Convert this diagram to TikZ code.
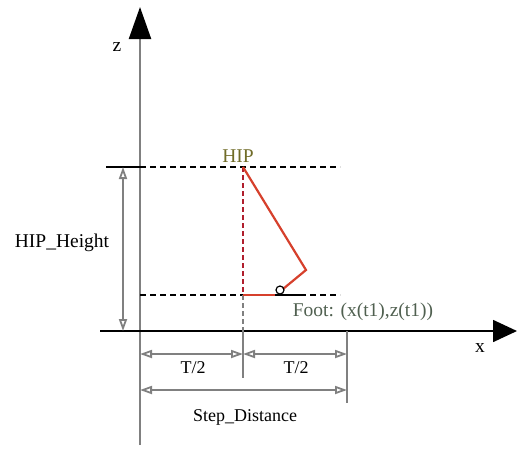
\documentclass[tikz,border=0pt]{standalone}
\usepackage{fontspec}
\setmainfont{Liberation Serif}
\usetikzlibrary{arrows.meta}

\definecolor{legred}{RGB}{214,64,44}
\definecolor{hipred}{RGB}{176,30,45}
\definecolor{hipolive}{RGB}{112,108,40}
\definecolor{footolive}{RGB}{80,96,80}

\tikzset{
  dimline/.style={draw=black!50,line width=1.8pt,
    {Triangle[open,length=12pt,width=8pt]}-{Triangle[open,length=12pt,width=8pt]}},
  guide/.style={dash pattern=on 6pt off 4pt,line width=1.5pt},
  lbl/.style={font=\fontsize{19.5}{22}\selectfont},
  dimlbl/.style={font=\fontsize{18}{21}\selectfont},
}

\begin{document}
\begin{tikzpicture}[x=1pt,y=-1pt]
  \useasboundingbox (0,0) rectangle (518,448);
  %
  \coordinate (hip) at (243,167);
  \coordinate (knee) at (306,270);
  \coordinate (ankle) at (283,289);
  \coordinate (heel) at (243,295);
  \coordinate (toe) at (305,295);
  %
  \draw[black!50,line width=2.2pt,-{Triangle[length=32pt,width=22pt,black]}] (140,445) -- (140,7);
  \draw (117,47) node[lbl] {z};
  \draw[black,line width=1.6pt,-{Triangle[length=24pt,width=22pt]}] (100,331) -- (517,331);
  \draw (480,348) node[lbl] {x};
  %
  \draw[line width=1.5pt] (106,167) -- (140,167);
  \draw[guide] (140,167) -- (340,167);
  \draw[guide] (140,295) -- (340,295);
  \draw (238,156) node[lbl,text=hipolive] {HIP};
  %
  \draw[dimline] (123,167) -- (123,331);
  \draw (62,243) node[lbl] {HIP\_Height};
  %
  \draw[hipred,dash pattern=on 5pt off 3pt,line width=2.4pt] (hip) -- (heel);
  \draw[black!50,dash pattern=on 5pt off 3pt,line width=1.8pt] (heel) -- (243,331);
  \draw[legred,line width=2.2pt] (hip) -- (knee) -- (ankle);
  \draw[legred,line width=2.2pt] (heel) -- (275,295);
  \draw[black,line width=2.8pt] (275,295) -- (toe);
  \draw[black,line width=1.2pt] (280,290) circle (4);
  \draw (363,312) node[lbl,text=footolive] {Foot: (x(t1),z(t1))};
  %
  \draw[black!50,line width=1.8pt] (243,331) -- (243,378);
  \draw[black!50,line width=1.8pt] (347,331) -- (347,403);
  \draw[dimline] (140,354) -- (243,354);
  \draw[dimline] (243,354) -- (347,354);
  \draw (193,368) node[dimlbl] {T/2};
  \draw (296,368) node[dimlbl] {T/2};
  \draw[dimline] (140,390) -- (347,390);
  \draw (245,417) node[dimlbl] {Step\_Distance};
  %
\end{tikzpicture}
\end{document}
